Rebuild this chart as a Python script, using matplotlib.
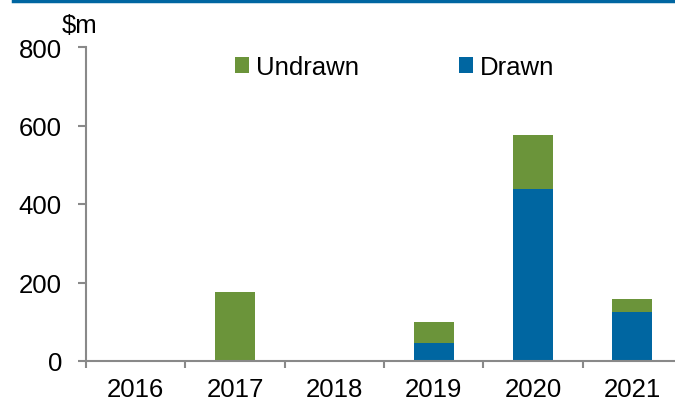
import matplotlib
matplotlib.use("Agg")
import matplotlib.pyplot as plt
from matplotlib.lines import Line2D

years = ["2016", "2017", "2018", "2019", "2020", "2021"]
drawn = [0, 0, 0, 45, 437, 126]
undrawn = [0, 175, 0, 55, 138, 32]
yticks = [0, 200, 400, 600, 800]

green = "#6b943a"
blue = "#0066a1"
grey = "#898989"

plt.rcParams["font.family"] = ["Liberation Sans", "DejaVu Sans"]
plt.rcParams["font.size"] = 18.5

fig = plt.figure(figsize=(6.75, 4.06), dpi=100)
ax = fig.add_axes([86 / 675, 44 / 406, 596 / 675, 314 / 406])

pos = [i + 0.5 for i in range(len(years))]
ax.bar(pos, drawn, width=0.4, color=blue, label="Drawn", zorder=2)
ax.bar(pos, undrawn, width=0.4, bottom=drawn, color=green, label="Undrawn", zorder=2)

ax.set_xlim(0, len(years))
ax.set_ylim(0, 800)
ax.set_yticks(yticks)
ax.set_xticks(range(len(years) + 1))
ax.set_xticklabels([])
ax.set_xticks(pos, minor=True)
ax.set_xticklabels(years, minor=True)

for s in ["top", "right"]:
    ax.spines[s].set_visible(False)
for s in ["left", "bottom"]:
    ax.spines[s].set_color(grey)
    ax.spines[s].set_linewidth(1.5)
ax.tick_params(axis="y", direction="out", length=5.8, width=1.5, color=grey, pad=11.5)
ax.tick_params(axis="x", which="major", direction="out", length=5.2, width=1.5, color=grey)
ax.tick_params(axis="x", which="minor", length=0, pad=11.5)

h, l = ax.get_legend_handles_labels()
ax.legend(h[::-1], l[::-1], ncol=2, frameon=False, loc="center left",
          bbox_to_anchor=(235 / 675, 1 - 68 / 406), bbox_transform=fig.transFigure,
          borderpad=0, borderaxespad=0, handlelength=0.55, handleheight=0.55,
          handletextpad=0.27, columnspacing=3.9)

fig.text(62 / 675, 1 - 33 / 406, r"\$m", ha="left", va="baseline")
fig.add_artist(Line2D([13 / 675, 1], [1 - 1.6 / 406, 1 - 1.6 / 406],
                      transform=fig.transFigure, color=blue, linewidth=2.5))

fig.savefig("out.png", dpi=100)
